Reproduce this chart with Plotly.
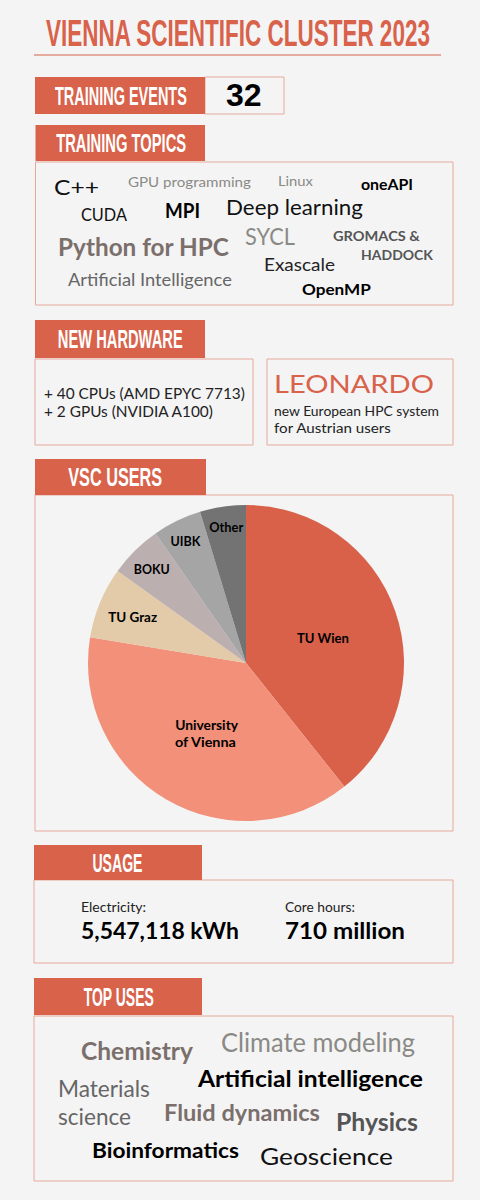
import json
import plotly.graph_objects as go

W = 480
H = 1200

ORANGE = '#D8624A'
BORDER = '#E8A99B'
BG = '#F4F4F5'
NARROW = 'Liberation Sans'
GEO = 'Lato'

# pie data
users_labels = ['TU Wien', 'University of Vienna', 'TU Graz', 'BOKU', 'UIBK', 'Other']
users_values = [39.3, 38.3, 7.3, 5.4, 5.0, 4.7]
users_colors = ['#D9614A', '#F29079', '#E3CBA9', '#BBAFAF', '#A5A5A5', '#737373']

# word clouds
topic_words = ['C++', 'GPU programming', 'Linux', 'oneAPI', 'CUDA', 'MPI', 'Deep learning',
               'Python for HPC', 'SYCL', 'GROMACS &', 'HADDOCK', 'Exascale',
               'Artificial Intelligence', 'OpenMP']
topic_x = [54, 128, 278, 361, 81, 165, 226, 58, 245, 333, 361, 264, 68, 302]
topic_y = [187, 182, 180, 184, 214, 210, 207, 246, 236, 236, 255, 264, 279, 289]
topic_size = [21, 14, 14, 15, 17, 20, 22, 25, 23, 13, 13, 18, 17, 15]
topic_width = [45, 123, 35, 52, 46, 35, 137, 171, 50, 87, 72, 71, 164, 69]
topic_color = ['#111', '#8A8A85', '#8A8A85', '#000', '#111', '#000', '#111', '#7B6F6B',
               '#8A8A85', '#555', '#555', '#222', '#666', '#000']
topic_bold = [0, 0, 0, 1, 0, 1, 0, 1, 0, 1, 1, 0, 0, 1]

use_words = ['Chemistry', 'Climate modeling', 'Artificial intelligence', 'Materials', 'science',
             'Fluid dynamics', 'Physics', 'Bioinformatics', 'Geoscience']
use_x = [81, 221, 197, 58, 58, 164, 336, 92, 260]
use_y = [1050, 1042, 1078, 1087, 1115, 1112, 1121, 1150, 1155]
use_size = [24, 26, 22, 24, 24, 22, 24, 20, 24]
use_width = [112, 194, 225, 92, 73, 156, 82, 147, 133]
use_color = ['#7B6F6B', '#8A8A85', '#000', '#666', '#666', '#7B6F6B', '#555', '#000', '#111']
use_bold = [1, 0, 1, 0, 0, 1, 1, 1, 0]

headers = ['TRAINING EVENTS', 'TRAINING TOPICS', 'NEW HARDWARE', 'VSC USERS', 'USAGE', 'TOP USES']
header_left = [35, 35.5, 35, 35, 34, 34]
header_right = [205, 205, 205, 206, 202, 202]
header_top = [77, 125, 320, 459, 845, 978]
header_bottom = [114, 161, 358, 495, 880, 1015]
header_cx = [121, 121, 120, 115, 117.5, 119]
header_width = [132, 130, 125, 94, 50, 70]

# outlined boxes: left, right, top, bottom
boxes = [(205, 284, 77, 114), (35.5, 453, 162, 305), (35, 253, 359, 445), (267, 453, 359, 445),
         (35, 453, 495, 831), (34, 453, 880, 963), (34, 453, 1016, 1181)]

# text widths, squeezed in the page after drawing
fit = {}


def px(x):
    return x / W


def py(y):
    return 1 - y / H


fig = go.Figure(go.Pie(labels=users_labels, values=users_values, sort=False,
                       direction='clockwise', rotation=0, textinfo='none', showlegend=False,
                       marker=dict(colors=users_colors, line=dict(width=0)),
                       domain=dict(x=[px(88), px(404)], y=[py(821), py(505)])))


def rect(l, r, t, b, fill=None, line=None):
    fig.add_shape(type='rect', xref='paper', yref='paper', layer='below',
                  x0=px(l), x1=px(r), y0=py(b), y1=py(t),
                  fillcolor=fill if fill else 'rgba(0,0,0,0)',
                  line=dict(color=line if line else 'rgba(0,0,0,0)', width=1 if line else 0))


def label(txt, x, y, size, color='#000', bold=False, family=GEO, anchor='left', width=None):
    if anchor == 'left':
        x = x - 1
    fig.add_annotation(text=txt, xref='paper', yref='paper', x=px(x), y=py(y), showarrow=False,
                       xanchor=anchor, yanchor='middle', align=anchor, borderpad=0,
                       font=dict(family=family, size=size, color=color,
                                 weight=700 if bold else 400))
    if width:
        fit[txt] = width


for b in boxes:
    rect(b[0], b[1], b[2], b[3], line=BORDER)
for i in range(len(headers)):
    rect(header_left[i], header_right[i], header_top[i], header_bottom[i], fill=ORANGE)
    label(headers[i], header_cx[i], (header_top[i] + header_bottom[i]) / 2,
          25, '#FFFFFF', True, NARROW, 'center', header_width[i])

# title
label('VIENNA SCIENTIFIC CLUSTER 2023', 238, 34, 37, ORANGE, True, NARROW, 'center', 384)
fig.add_shape(type='line', xref='paper', yref='paper', x0=px(34), x1=px(441), y0=py(55), y1=py(55),
              line=dict(color=ORANGE, width=1))

label('32', 244, 95, 32, '#000', True, 'Liberation Sans', 'center')

for i in range(len(topic_words)):
    label(topic_words[i], topic_x[i], topic_y[i], topic_size[i], topic_color[i], topic_bold[i], width=topic_width[i])
for i in range(len(use_words)):
    label(use_words[i], use_x[i], use_y[i], use_size[i], use_color[i], use_bold[i], width=use_width[i])

# new hardware
label('+ 40 CPUs (AMD EPYC 7713)', 44, 393, 14.5, '#222', width=201)
label('+ 2 GPUs (NVIDIA A100)', 44, 412, 14.5, '#222', width=169)
label('LEONARDO', 274, 383, 26, ORANGE, width=160)
label('new European HPC system', 274, 411, 12.5, '#222', width=165)
label('for Austrian users', 274, 428, 12.5, '#222', width=117)

# pie labels
label('TU Wien', 323, 638, 13, '#000', True, GEO, 'center', 52)
label('University', 206, 725, 13, '#000', True, GEO, 'center', 63)
label('of Vienna', 205, 742, 13, '#000', True, GEO, 'center', 61)
label('TU Graz', 132, 617, 13, '#000', True, GEO, 'center', 49)
label('BOKU', 152, 569, 13, '#000', True, GEO, 'center', 36)
label('UIBK', 186, 541, 13, '#000', True, GEO, 'center', 30)
label('Other', 226, 527, 13, '#000', True, GEO, 'center', 34)

# usage
label('Electricity:', 81, 907, 12.5, '#222', width=65)
label('5,547,118 kWh', 81, 930, 23, '#000', True, width=158)
label('Core hours:', 285, 907, 12.5, '#222', width=70)
label('710 million', 285, 930, 23, '#000', True, width=120)

fig.update_layout(autosize=False, width=W, height=H, paper_bgcolor=BG, plot_bgcolor=BG,
                  margin=dict(l=0, r=0, t=0, b=0))

# scale the texts in x to their widths, about their own anchor point
post = """document.body.style.margin='0';document.body.style.overflow='hidden';
var fit = %s;
document.querySelectorAll('.annotation-text').forEach(function (t) {
  var w = fit[t.textContent];
  if (!w) return;
  var sx = w / t.getComputedTextLength();
  var x = parseFloat(t.getAttribute('x'));
  t.setAttribute('transform', 'translate(' + x + ',0) scale(' + sx + ',1) translate(' + (-x) + ',0)');
  var r = t.parentNode.querySelector('rect');
  if (r) {
    var oldw = parseFloat(r.getAttribute('width'));
    if (oldw > w) {
      var a = t.style.textAnchor || t.getAttribute('text-anchor');
      if (a === 'middle') r.setAttribute('x', parseFloat(r.getAttribute('x') || 0) + (oldw - w) / 2);
      r.setAttribute('width', w);
    }
  }
});""" % json.dumps(fit)

fig.write_html('out.html', config=dict(displayModeBar=False), post_script=post)
